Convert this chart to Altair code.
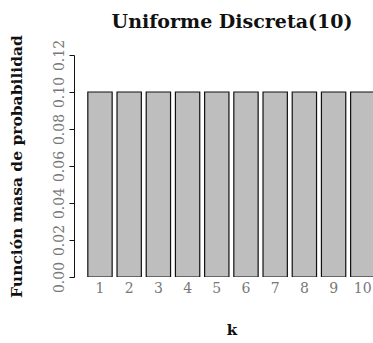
import altair as alt
import pandas as pd

# Discrete uniform pmf on 1..10
k_values = [1, 2, 3, 4, 5, 6, 7, 8, 9, 10]
probabilities = [0.1, 0.1, 0.1, 0.1, 0.1, 0.1, 0.1, 0.1, 0.1, 0.1]
y_ticks = [0.00, 0.02, 0.04, 0.06, 0.08, 0.10, 0.12]
main_title = "Uniforme Discreta(10)"
x_title = "k"

df = pd.DataFrame({"k": k_values, "p": probabilities})

FONT = "DejaVu Serif"
half_width = 0.4167  # bar width 1 with spacing 0.2 (in units of 1.2)

base = alt.Chart(df).transform_calculate(
    x0=f"datum.k - {half_width}", x1=f"datum.k + {half_width}"
)

x_scale = alt.Scale(domain=[0.11, 10.35], nice=False, zero=False)
y_scale = alt.Scale(domain=[0, 0.12], nice=False)

y_axis = alt.Axis(
    values=y_ticks,
    format=".2f",
    title="Función masa de probabilidad",
    titleFont=FONT,
    titleFontSize=15.5,
    titleFontWeight="bold",
    titleColor="#111111",
    titlePadding=28,
    labelAngle=-90,
    labelAlign="center",
    labelBaseline="bottom",
    labelFont=FONT,
    labelFontSize=14,
    labelColor="#777777",
    labelPadding=3,
    labelOverlap=False,
    tickSize=5,
    tickColor="#111111",
    domainColor="#111111",
    grid=False,
)

bars = base.mark_bar(
    fill="#bebebe", stroke="#111111", strokeWidth=1.2, clip=True
).encode(
    x=alt.X("x0:Q", scale=x_scale, axis=None),
    x2="x1:Q",
    y=alt.Y("p:Q", scale=y_scale, axis=y_axis),
    y2=alt.datum(0),
)

labels = base.mark_text(
    font=FONT, fontSize=14, color="#777777", baseline="top", dy=5
).encode(
    x=alt.X("k:Q", scale=x_scale, axis=None),
    y=alt.Y(datum=0, scale=y_scale, axis=y_axis),
    text="k:N",
)

# Titles placed relative to the plot area (which runs past the right edge)
top_title = alt.Chart(pd.DataFrame({"t": [main_title]})).mark_text(
    font=FONT, fontSize=19, fontWeight="bold", color="#111111", baseline="middle"
).encode(x=alt.value(158), y=alt.value(-33), text="t:N")

bottom_title = alt.Chart(pd.DataFrame({"t": [x_title]})).mark_text(
    font=FONT, fontSize=15, fontWeight="bold", color="#111111", baseline="middle"
).encode(x=alt.value(158), y=alt.value(275), text="t:N")

chart = (
    alt.layer(bars, labels, top_title, bottom_title)
    .properties(
        width=299,
        height=222,
        padding={"left": 74, "top": 55, "right": 0, "bottom": 66},
        autosize=alt.AutoSizeParams(type="none"),
    )
    .configure_view(stroke=None, strokeWidth=0)
)

chart.save("out.html", embed_options={"renderer": "svg", "actions": False})
